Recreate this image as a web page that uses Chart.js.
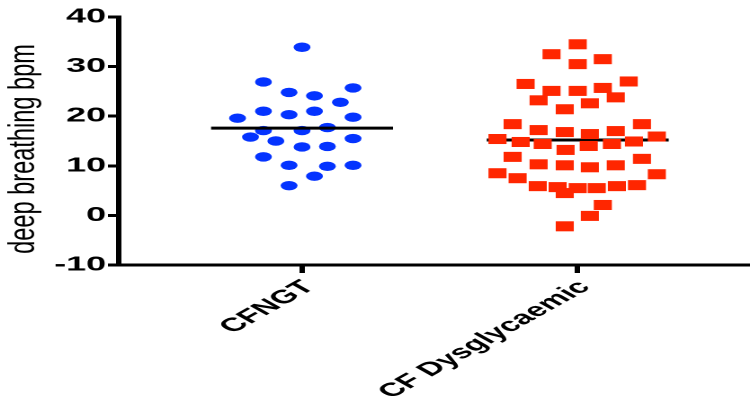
<!DOCTYPE html>
<html>
<head>
<meta charset="utf-8">
<script src="https://cdn.jsdelivr.net/npm/chart.js@4/dist/chart.umd.min.js"></script>
<style>
    html, body { margin: 0; padding: 0; background: #fff; overflow: hidden; }
    #wrap { width: 750px; height: 396px; overflow: hidden; }
    /* the original figure is stretched horizontally, so draw narrow and scale */
    #chart { transform: scale(1.7986, 1); transform-origin: 0 0; }
</style>
</head>
<body>
<div id="wrap"><canvas id="chart" width="417" height="396"></canvas></div>
<script>
const categories = ['CFNGT', 'CF Dysglycaemic'];
const yTitle = 'deep breathing bpm';
const yTicks = [-10, 0, 10, 20, 30, 40];

// CFNGT values and their horizontal scatter offset (in category units)
const cfngtValues = [33.9, 26.9, 25.7, 24.8, 24.1, 22.8, 21.0, 21.0, 20.3, 19.6, 19.8, 17.7, 17.1,
    17.1, 15.8, 15.0, 15.5, 13.8, 13.9, 11.8, 10.1, 9.9, 10.1, 7.9, 6.0];
const cfngtOffsets = [0, -0.14, 0.185, -0.047, 0.045, 0.139, -0.14, 0.045, -0.047, -0.234, 0.185, 0.092, -0.14,
    0, -0.187, -0.095, 0.185, 0, 0.092, -0.14, -0.047, 0.092, 0.185, 0.045, -0.047];

// CF Dysglycaemic values and offsets
const dysValues = [34.5, 32.5, 31.5, 30.5, 27.0, 26.5, 25.1, 25.1, 25.7, 23.8, 23.2, 22.6, 21.4,
    18.4, 18.4, 17.2, 16.8, 16.4, 17.0, 15.9, 15.4, 14.8, 14.4, 14.0, 14.4, 14.9, 13.2,
    11.8, 11.4, 10.3, 10.1, 9.7, 10.1, 8.5, 8.3, 7.5, 5.9, 5.7, 5.5, 5.5, 5.9, 6.1, 4.5,
    2.1, -0.1, -2.2];
const dysOffsets = [0, -0.095, 0.091, 0, 0.185, -0.189, -0.095, 0, 0.091, 0.138, -0.142, 0.044, -0.047,
    -0.236, 0.233, -0.142, -0.047, 0.044, 0.138, 0.287, -0.291, -0.207, -0.127, 0.04, 0.124, 0.204, -0.044,
    -0.236, 0.233, -0.142, -0.047, 0.044, 0.138, -0.291, 0.287, -0.218, -0.145, -0.073, 0, 0.069, 0.142, 0.215, -0.047,
    0.091, 0.044, -0.047];

const groupMeans = [17.6, 15.2];
const meanHalfWidth = 0.33;

function toPoints(values, offsets, pos) {
    return values.map((v, i) => ({ x: pos + offsets[i], y: v }));
}

function meanLine(i) {
    const pos = i + 1;
    return [{ x: pos - meanHalfWidth, y: groupMeans[i] }, { x: pos + meanHalfWidth, y: groupMeans[i] }];
}

// y title is drawn by hand so it can be widened like the original
const yTitlePlugin = {
    id: 'yTitle',
    afterDraw(chart) {
        const ctx = chart.ctx;
        const mid = (chart.chartArea.top + chart.chartArea.bottom) / 2 + 8;
        ctx.save();
        ctx.translate(13.5, mid);
        ctx.rotate(-Math.PI / 2);
        ctx.scale(1.15, 1);
        ctx.font = '20.5px "Liberation Sans", Arial, sans-serif';
        ctx.fillStyle = '#000';
        ctx.textAlign = 'center';
        ctx.textBaseline = 'middle';
        ctx.fillText(yTitle, 0, 0);
        ctx.restore();
    }
};

const fontFamily = '"Liberation Sans", Arial, sans-serif';

new Chart(document.getElementById('chart'), {
    type: 'scatter',
    data: {
        datasets: [
            {
                label: 'CFNGT mean',
                type: 'line',
                data: meanLine(0),
                borderColor: '#000',
                borderWidth: 3,
                pointRadius: 0,
                order: 0
            },
            {
                label: categories[0],
                data: toPoints(cfngtValues, cfngtOffsets, 1),
                backgroundColor: '#0433ff',
                borderWidth: 0,
                pointStyle: 'circle',
                pointRadius: 4.7,
                order: 1
            },
            {
                label: categories[1],
                data: toPoints(dysValues, dysOffsets, 2),
                backgroundColor: '#ff2600',
                borderWidth: 0,
                pointStyle: 'rect',
                pointRadius: 7.1,
                order: 2
            },
            {
                label: 'CF Dysglycaemic mean',
                type: 'line',
                data: meanLine(1),
                borderColor: '#000',
                borderWidth: 3,
                pointRadius: 0,
                order: 3
            }
        ]
    },
    options: {
        responsive: false,
        devicePixelRatio: 2,
        animation: false,
        layout: { autoPadding: false, padding: { top: 17, right: 0, bottom: 0, left: 0 } },
        plugins: {
            legend: { display: false },
            tooltip: { enabled: false }
        },
        scales: {
            x: {
                type: 'linear',
                min: 0.335,
                max: 2.625,
                afterBuildTicks: function(scale) {
                    scale.ticks = categories.map((c, i) => ({ value: i + 1 }));
                },
                afterFit: function(scale) {
                    scale.height = 131;
                    scale.paddingLeft = 0;
                    scale.paddingRight = 0;
                },
                border: { display: true, color: '#000', width: 3 },
                grid: {
                    drawOnChartArea: false,
                    drawTicks: true,
                    tickLength: 8,
                    tickWidth: 3,
                    tickColor: '#000'
                },
                ticks: {
                    autoSkip: false,
                    maxRotation: 45,
                    minRotation: 45,
                    padding: 3,
                    labelOffset: 4,
                    color: '#000',
                    font: { family: fontFamily, size: 19, weight: 'bold' },
                    callback: function(value) {
                        return categories[value - 1] || '';
                    }
                }
            },
            y: {
                min: yTicks[0],
                max: yTicks[yTicks.length - 1],
                afterBuildTicks: function(scale) {
                    scale.ticks = yTicks.map(v => ({ value: v }));
                },
                afterFit: function(scale) {
                    scale.width = 66;
                },
                border: { display: true, color: '#000', width: 3 },
                grid: {
                    drawOnChartArea: false,
                    drawTicks: true,
                    tickLength: 6,
                    tickWidth: 3,
                    tickColor: '#000'
                },
                ticks: {
                    padding: 1,
                    color: '#000',
                    font: { family: fontFamily, size: 20, weight: 'bold' }
                }
            }
        }
    },
    plugins: [yTitlePlugin]
});
</script>
</body>
</html>
